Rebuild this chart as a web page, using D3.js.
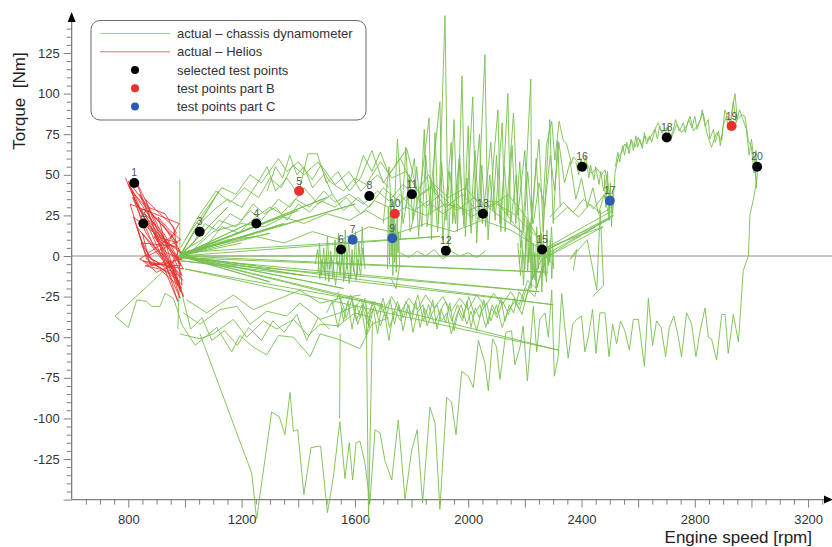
<!DOCTYPE html>
<html><head><meta charset="utf-8">
<script src="https://cdn.jsdelivr.net/npm/d3@7"></script>
<style>body{margin:0;background:#fff}svg{display:block;font-family:"Liberation Sans",Arial,sans-serif}</style>
</head><body>
<svg id="chart" width="832" height="547"></svg>
<script>
// ---------- data ----------
const xTickLabels = [800,1200,1600,2000,2400,2800,3200];
const yTickLabels = [-125,-100,-75,-50,-25,0,25,50,75,100,125];
const legendLabels = ["actual \u2013 chassis dynamometer","actual \u2013 Helios","selected test points","test points part B","test points part C"];

const pointIds    = [1,2,3,4,5,6,7,8,9,10,11,12,13,15,16,17,18,19,20];
const pointRpm    = [821,853,1052,1252,1403,1551,1592,1651,1732,1741,1801,1921,2052,2261,2402,2500,2701,2930,3020];
const pointTorque = [45,20,15,20,40,4,10,37,11,26,38,3.3,26,4,55,34,73,80,55];
const pointSet    = ["sel","sel","sel","sel","B","sel","C","sel","C","B","sel","sel","sel","sel","sel","C","sel","B","sel"];

const helios = [[790,48],[835,30],[870,20],[905,10],[960,2],[985,-5],[800,44],[850,25],[900,12],[975,8],
[812,40],[860,15],[915,0],[990,-12],[825,47],[880,22],[940,8],[980,20],[806,32],[845,10],[880,-2],[960,-8],[995,-25],
[840,38],[890,24],[950,14],[985,2],[818,24],[855,5],[900,-6],[970,-14],[860,35],[900,28],[960,18],[990,-18],
[830,18],[865,-2],[930,-9],[975,-28],[870,28],[920,20],[970,6],[845,8],[880,-6],[960,-4],[985,-22],
[880,18],[930,10],[995,-8],[852,-3],[900,-10],[950,-6],[980,4],[890,12],[935,2],[990,-2],[860,-6],[910,-8],[975,-18],
[905,24],[945,16],[985,10],[868,0],[955,-10],[983,-26],[800,46],[870,30],[930,26],[970,14],[840,-2],[880,-5],[985,-6],
[815,36],[890,6],[945,-3],[992,-15],[850,14],[875,-4],[965,-12],[988,-20],[858,26],[925,14],[978,-2]];

const mainRun = [[2265,0],[2265,34],[2277,69],[2295,83],[2306,59],[2321,83],[2336,71],[2347,69],[2365,57],[2371,61],[2400,55],[2418,57],[2436,51],[2453,54],[2471,50],[2483,53],[2495,43],[2503,34],[2510,26],[2518,51],[2530,61],[2542,64],[2553,69],[2565,66],[2577,71],[2589,67],[2600,73],[2612,68],[2624,74],[2636,71],[2653,76],[2671,82],[2683,76],[2700,79],[2718,73],[2736,81],[2753,76],[2771,80],[2783,86],[2795,77],[2812,81],[2830,88],[2842,76],[2859,67],[2877,76],[2895,71],[2906,90],[2924,82],[2942,100],[2950,84],[2965,87],[2977,86],[2989,71],[3000,67],[3009,51],[3016,65],[3021,49],[3006,34],[2995,26],[2989,0],[2971,-9],[2954,-53],[2936,-36],[2918,-60],[2907,-36],[2895,-36],[2877,-64],[2859,-51],[2848,-50],[2836,-32],[2818,-47],[2804,-62],[2789,-42],[2771,-35],[2753,-62],[2742,-50],[2726,-37],[2710,-44],[2697,-62],[2681,-44],[2665,-40],[2651,-55],[2636,-26],[2622,-68],[2601,-39],[2583,-39],[2569,-58],[2553,-46],[2538,-40],[2524,-54],[2510,-42],[2497,-62],[2483,-35],[2465,-35],[2451,-60],[2439,-33],[2424,-50],[2412,-59],[2400,-37],[2383,-39],[2369,-42],[2353,-63],[2339,-40],[2330,-23],[2318,-62],[2304,-74],[2295,-21],[2283,-50],[2271,-35],[2253,-39],[2242,-59],[2230,-31],[2209,-77],[2194,-43],[2183,-56],[2165,-67],[2153,-46],[2133,-47],[2112,-76],[2100,-56],[2086,-51],[2071,-83],[2059,-66],[2036,-52],[2018,-81],[2000,-74],[1977,-71],[1957,-110],[1941,-90],[1924,-87],[1900,-156],[1883,-103],[1865,-93],[1839,-152],[1820,-107],[1800,-120],[1777,-150],[1753,-101],[1730,-138],[1706,-126],[1689,-109],[1671,-107],[1653,-152],[1636,-128],[1618,-114],[1604,-115],[1592,-138],[1580,-115],[1565,-137],[1547,-102],[1524,-136],[1503,-158],[1479,-117],[1445,-118],[1420,-147],[1398,-107],[1383,-108],[1371,-84],[1353,-110],[1333,-99],[1306,-96],[1253,-162],[1236,-134],[1053,-48]];

const curve2 = [[2520,55],[2528,64],[2535,58],[2545,68],[2552,62],[2560,70],[2568,63],[2575,72],[2583,65],[2592,74],[2598,67],[2606,72],[2615,66],[2622,76],[2630,69],[2640,74],[2648,70],[2660,78],[2668,72],[2676,80],[2690,74],[2706,80],[2712,72],[2725,78],[2732,84],[2745,77],[2760,82],[2766,76],[2778,84],[2790,79],[2800,86],[2808,78],[2820,84],[2826,90],[2836,80],[2848,84],[2853,72],[2866,78],[2872,70],[2884,77],[2890,68],[2900,80],[2912,86],[2918,78],[2930,84],[2936,95],[2946,82],[2958,90],[2970,84],[2982,78],[2992,62],[3000,72],[3012,55],[3018,42],[3012,60]];
const curve3 = [[2380,58],[2390,50],[2398,60],[2408,52],[2414,62],[2426,48],[2432,56],[2444,47],[2450,55],[2462,44],[2468,52],[2478,40],[2488,48]];

const fanUp = [[982,0],[1250,22],[982,0],[1400,28],[982,1],[1600,32],[982,0],[1150,30],[982,0],[1300,14],[982,2],[1900,12],[982,0],[1120,40],[982,0],[1500,36],[982,0],[1350,20],[982,0],[1200,8]];
const fanDown = [[982,0],[2280,-10],[982,-1],[2250,-22],[985,-3],[2300,-30],[982,0],[1560,-20],[982,0],[1700,-30],[1000,-8],[2320,-58],[982,0],[1420,-12],[982,0],[1300,-16],[982,0],[1250,-6]];
const zeroRun = [[982,0],[1480,0],[1640,0],[2180,0],[2290,1]];
const hubVert = [[982,47],[982,-5],[975,-45]];

const lowLeft1 = [[982,0],[753,-37],[800,-44],[830,-27],[865,-28],[882,-31],[912,-31],[930,-23],[959,-26],[977,-35],[988,-42],[1036,-55],[1077,-49],[1112,-44],[1165,-59],[1194,-49],[1241,-56],[1289,-61],[1330,-49],[1383,-50],[1442,-62],[1477,-48],[1536,-51],[1618,-57],[1660,-42],[1720,-38]];
const lowLeft2 = [[983,-48],[1053,-51],[1100,-48],[1171,-39],[1218,-50],[1277,-40],[1324,-45],[1383,-39],[1436,-49],[1477,-42],[1542,-43],[1600,-35],[1660,-38]];
const lowLeft3 = [[994,-35],[1053,-42],[1124,-33],[1183,-31],[1230,-42],[1289,-34],[1359,-37],[1406,-29],[1477,-39],[1547,-35],[1610,-30]];
const lowLeft4 = [[1006,-27],[1077,-35],[1171,-24],[1241,-33],[1324,-27],[1406,-21],[1477,-29],[1550,-26],[1620,-24]];
const lowLeft5 = [[985,-20],[1020,-45],[1060,-38],[1095,-52],[1140,-46],[1185,-55],[1225,-44],[1270,-52],[1310,-40],[1350,-47],[1395,-36],[1430,-52],[1470,-38],[1510,-45]];
const vert1 = [[1640,-30],[1648,-162],[1662,-40]];
const vert2 = [[1548,-48],[1546,-100]];

const up1 = [[982,0],[1040,18],[1100,28],[1150,35],[1200,30],[1260,46],[1290,55],[1320,40],[1360,48],[1400,38],[1434,63],[1467,63],[1500,45],[1540,52],[1580,40],[1620,48],[1660,65],[1700,45],[1740,55],[1783,66],[1820,40],[1860,50],[1900,35]];
const up2 = [[982,2],[1060,10],[1120,22],[1180,18],[1230,28],[1270,22],[1330,35],[1370,30],[1420,42],[1470,32],[1520,38],[1560,28],[1610,36],[1650,30],[1700,42],[1760,33],[1800,40],[1850,30],[1900,38],[1960,28],[2020,36],[2080,30],[2140,38],[2200,25],[2250,10]];
const up3 = [[990,-2],[1100,15],[1200,20],[1280,18],[1350,24],[1420,20],[1500,26],[1580,22],[1640,28],[1700,22],[1780,30],[1850,25],[1920,32],[2000,28],[2080,34],[2160,26],[2240,12]];
const up4 = [[982,0],[1150,10],[1250,12],[1350,8],[1450,15],[1550,10],[1650,18],[1750,14],[1850,20],[1950,15],[2050,22],[2150,16],[2260,4]];
const up5 = [[1000,10],[1080,30],[1130,42],[1180,38],[1230,50],[1270,45],[1330,60],[1360,52],[1400,58],[1450,47],[1480,56],[1530,44],[1580,52],[1620,40],[1680,50],[1720,42]];
const up6 = [[985,5],[1050,25],[1110,40],[1160,33],[1210,42],[1260,36],[1300,48],[1340,42],[1380,56],[1420,50],[1470,58],[1510,46],[1560,40],[1600,48],[1640,44],[1690,58],[1730,48],[1780,52],[1830,38],[1880,44],[1930,36],[1990,42],[2050,30]];
const up7 = [[982,0],[1030,8],[1070,20],[1110,16],[1160,26],[1200,22],[1240,32],[1280,26],[1320,30],[1360,22],[1400,32],[1440,27],[1480,34],[1530,30],[1570,36],[1620,26],[1670,34],[1720,30],[1760,38],[1810,28],[1860,34],[1910,26],[1960,32],[2010,24],[2070,30],[2130,22],[2200,14]];
const up8 = [[982,-1],[1070,5],[1130,18],[1190,14],[1250,24],[1300,30],[1340,26],[1390,35],[1440,30],[1490,40],[1530,33],[1580,38],[1630,32],[1680,40],[1720,34],[1770,44],[1820,36],[1870,42],[1920,30],[1980,38],[2040,26],[2100,34],[2160,20],[2230,6]];
const up9 = [[1290,40],[1320,55],[1345,48],[1370,62],[1395,50],[1420,55],[1450,42],[1490,50],[1520,38]];
const up10 = [[1600,45],[1630,62],[1660,52],[1690,64],[1720,50],[1760,60],[1800,46]];

const spike1 = [[1760,10],[1780,67],[1795,15],[1830,40],[1862,85],[1870,10],[1883,76],[1895,20],[1918,148],[1930,5],[1950,84],[1962,15],[1978,111],[1990,12],[2016,98],[2030,8],[2059,124],[2070,10],[2090,60],[2105,90],[2115,15],[2140,100],[2150,20],[2170,50],[2185,5],[2200,35],[2221,109],[2225,-10]];
const spike2 = [[1700,20],[1720,55],[1735,10],[1750,72],[1770,20],[1810,60],[1825,12],[1845,78],[1855,18],[1900,95],[1910,10],[1940,70],[1945,20],[1970,62],[1985,18],[2000,80],[2010,14],[2040,75],[2050,20],[2080,70],[2095,22],[2120,82],[2130,15],[2160,88],[2175,25],[2200,65],[2215,10],[2250,72],[2265,15],[2288,84],[2300,20],[2316,71],[2325,30]];
const spike3 = [[1780,30],[1792,50],[1805,22],[1818,55],[1836,18],[1850,62],[1868,25],[1878,48],[1892,15],[1906,58],[1922,22],[1935,52],[1955,20],[1968,60],[1982,25],[1996,48],[2008,18],[2024,65],[2038,22],[2048,56],[2062,18],[2076,50],[2088,28],[2100,62],[2112,20],[2128,55],[2140,25],[2155,68],[2168,20],[2182,58],[2196,15],[2210,52],[2226,20],[2240,60],[2256,12]];

const clump1 = [[1470,-10],[1475,8],[1482,-12],[1490,5],[1496,-15],[1503,12],[1510,-8],[1515,3],[1522,-14],[1530,10],[1536,-5],[1542,14],[1548,-12],[1555,6],[1560,-16],[1566,16],[1572,-8],[1578,12],[1585,-14],[1590,4],[1596,-10],[1602,15],[1608,-12],[1614,8],[1620,-6],[1626,18],[1632,-4]];
const clump2 = [[1460,-5],[1468,4],[1476,-14],[1484,-2],[1492,-10],[1500,2],[1508,-16],[1516,0],[1524,-6],[1532,-18],[1540,-3],[1548,-10],[1556,2],[1564,-14],[1572,-4],[1580,-17],[1588,0],[1596,-8],[1604,-15],[1612,-2],[1620,-12],[1628,5],[1636,-8]];
const clump3 = [[1715,-8],[1718,30],[1722,-5],[1725,38],[1728,0],[1731,25],[1734,-12],[1737,34],[1740,-4],[1743,20],[1746,-10],[1749,28],[1752,2],[1755,15],[1758,-6],[1745,-20],[1728,-14]];
const clump4 = [[2180,-5],[2190,10],[2195,-18],[2205,15],[2210,-10],[2218,20],[2222,-20],[2230,8],[2236,-15],[2242,18],[2248,-8],[2255,12],[2260,-22],[2266,6],[2272,-12],[2278,16],[2284,-6],[2290,10],[2295,-14],[2300,4]];
const clump5 = [[2175,8],[2185,-12],[2192,4],[2200,-8],[2208,22],[2214,-4],[2220,12],[2228,-14],[2234,2],[2240,-20],[2246,10],[2252,-2],[2258,14],[2264,-10],[2270,2],[2276,-16],[2282,6],[2288,-4],[2294,18],[2302,-8]];
const jitter1 = [[1760,2],[1790,-1],[1820,3],[1850,0],[1880,4],[1910,-2],[1940,3],[1970,0],[2000,2],[2030,-1],[2060,3]];

const band1 = [[1520,-30],[1545,-24],[1560,-40],[1575,-28],[1590,-45],[1605,-30],[1620,-38],[1635,-26],[1650,-44],[1665,-32],[1680,-48],[1695,-30],[1710,-38],[1725,-27],[1740,-42],[1755,-30],[1770,-46],[1785,-33],[1800,-40],[1815,-28],[1830,-44],[1845,-32],[1860,-38],[1875,-27],[1890,-45],[1905,-33],[1920,-41],[1935,-29],[1950,-46],[1965,-34],[1980,-40],[1995,-28],[2010,-44],[2025,-32],[2040,-38],[2055,-27],[2070,-42],[2085,-30],[2100,-36],[2115,-26],[2130,-40],[2145,-30],[2160,-35],[2180,-22],[2200,-28],[2230,-12],[2260,-2]];
const band2 = [[1500,-35],[1520,-28],[1540,-44],[1555,-32],[1570,-38],[1590,-26],[1610,-42],[1625,-34],[1640,-50],[1655,-36],[1670,-31],[1690,-43],[1705,-35],[1720,-52],[1735,-36],[1750,-28],[1770,-38],[1790,-30],[1805,-47],[1820,-35],[1840,-30],[1855,-43],[1870,-36],[1890,-30],[1905,-40],[1925,-35],[1940,-48],[1960,-36],[1975,-30],[1995,-42],[2010,-34],[2030,-46],[2045,-35],[2065,-29],[2080,-40],[2100,-30],[2120,-44],[2140,-34],[2165,-28],[2190,-36],[2215,-18],[2245,-8]];
const band3 = [[1600,-32],[1620,-27],[1645,-36],[1670,-28],[1700,-34],[1730,-25],[1760,-35],[1790,-26],[1820,-33],[1850,-24],[1880,-32],[1910,-25],[1940,-34],[1970,-26],[2000,-33],[2030,-24],[2060,-31],[2090,-23],[2120,-30],[2150,-22],[2180,-30],[2210,-15],[2240,-20],[2270,-5]];
const band4 = [[1540,-22],[1565,-34],[1585,-24],[1605,-40],[1625,-30],[1645,-42],[1662,-28],[1680,-36],[1700,-26],[1722,-44],[1742,-34],[1762,-40],[1780,-28],[1800,-36],[1822,-24],[1842,-40],[1860,-30],[1880,-42],[1900,-34],[1920,-28],[1942,-40],[1962,-30],[1982,-38],[2002,-25],[2022,-36],[2042,-30],[2062,-44],[2082,-32],[2102,-38],[2122,-28],[2142,-36],[2162,-26],[2182,-33],[2205,-20],[2235,-25],[2262,-6]];

const right2 = [[2230,20],[2250,45],[2270,30],[2290,62],[2305,40],[2320,70],[2340,45],[2360,58],[2380,35],[2400,48],[2420,30],[2440,42],[2460,26],[2480,38],[2500,22]];
const right3 = [[2265,0],[2500,23],[2270,3],[2513,25],[2262,-2],[2477,18],[2275,5],[2510,28]];
const right4 = [[2289,24],[2336,33],[2371,27],[2407,35],[2442,29],[2477,37],[2513,31],[2470,26],[2430,32],[2390,24],[2350,30],[2300,22]];
const right5 = [[2480,50],[2486,30],[2492,52],[2497,22],[2502,45],[2506,18],[2510,38]];
const right6 = [[2371,-9],[2383,4],[2360,-2],[2420,10],[2454,-21],[2466,28],[2478,-18],[2440,-25]];

const greenTraces = [lowLeft1,lowLeft2,lowLeft3,lowLeft4,lowLeft5,fanDown,fanUp,up1,up2,up3,up4,up5,up6,up7,up8,up9,up10,
  band1,band2,band3,band4,spike3,spike2,spike1,clump1,clump2,clump3,clump4,clump5,jitter1,zeroRun,hubVert,
  vert1,vert2,right2,right3,right4,right5,right6,curve3,curve2,mainRun];

// ---------- drawing ----------
const svg = d3.select("#chart");
const x = d3.scaleLinear().domain([800,3200]).range([128.3,808.1]);
const y = d3.scaleLinear().domain([0,125]).range([256,53]);
const axisColor = "#808080", textColor = "#333";
const green = "#78c04e", red = "#e8302c";
const setColor = {sel:"#000000", B:"#e8302c", C:"#2d5db3"};
const fontFam = '"Liberation Sans",Arial,sans-serif';

// zero line
svg.append("line").attr("x1", x(600)).attr("x2", 832).attr("y1", y(0)).attr("y2", y(0))
  .attr("stroke", "#8c8c8c").attr("stroke-width", 1);

// y axis
const yMinor = d3.range(-150, 141, 5).filter(v => v % 25 !== 0);
const yMajor = d3.range(-150, 141, 25);
const gy = svg.append("g").attr("transform", `translate(${x(600)},0)`);
gy.call(d3.axisLeft(y).tickValues(yMinor).tickSize(5).tickFormat(""));
gy.select(".domain").remove();
const gy2 = svg.append("g").attr("transform", `translate(${x(600)},0)`);
gy2.call(d3.axisLeft(y).tickValues(yMajor).tickSize(8).tickPadding(4)
  .tickFormat(d => yTickLabels.includes(d) ? d : ""));
gy2.select(".domain").remove();
gy2.selectAll("text").attr("fill", textColor).style("font-size", "13px").style("font-family", fontFam);

// x axis
const xMinor = d3.range(650, 3251, 50).filter(v => v % 200 !== 0);
const xMajor = d3.range(800, 3201, 200);
const gx = svg.append("g").attr("transform", `translate(0,${y(-150)})`);
gx.call(d3.axisBottom(x).tickValues(xMinor).tickSize(5).tickFormat(""));
gx.select(".domain").remove();
const gx2 = svg.append("g").attr("transform", `translate(0,${y(-150)})`);
gx2.call(d3.axisBottom(x).tickValues(xMajor).tickSize(8).tickPadding(7)
  .tickFormat(d => xTickLabels.includes(d) ? d : ""));
gx2.select(".domain").remove();
gx2.selectAll("text").attr("fill", textColor).style("font-size", "13px").style("font-family", fontFam);
svg.selectAll("g .tick line").attr("stroke", axisColor);

// axis lines & arrows
const ax0 = x(600), ay0 = y(-150);
svg.append("line").attr("x1", ax0).attr("x2", ax0).attr("y1", ay0).attr("y2", 20).attr("stroke", axisColor).attr("stroke-width", 1.3);
svg.append("line").attr("x1", ax0).attr("x2", 826).attr("y1", ay0).attr("y2", ay0).attr("stroke", axisColor).attr("stroke-width", 1.3);
svg.append("path").attr("d", `M${ax0-4},${22}L${ax0},${12}L${ax0+4},${22}Z`).attr("fill", "#000");
svg.append("path").attr("d", `M824,${ay0-4}L833,${ay0}L824,${ay0+4}Z`).attr("fill", "#000");

// titles
svg.append("text").attr("x", 812).attr("y", 542.5).attr("text-anchor", "end")
  .style("font-size", "17px").attr("fill", "#222").text("Engine speed [rpm]");
svg.append("text").attr("transform", "translate(25,101) rotate(-90)").attr("text-anchor", "middle")
  .style("font-size", "17px").attr("fill", "#222").style("white-space", "pre").text("Torque  [Nm]");

// traces
const line = d3.line().x(d => x(d[0])).y(d => y(d[1]));
const gData = svg.append("g");
gData.selectAll("path.g").data(greenTraces).join("path").attr("class", "g")
  .attr("d", line).attr("fill", "none").attr("stroke", green).attr("stroke-width", 1)
  .attr("stroke-linejoin", "round").attr("opacity", 0.9);
gData.append("path").datum(helios).attr("d", line).attr("fill", "none")
  .attr("stroke", red).attr("stroke-width", 1).attr("opacity", 0.85);

// test points
const pts = pointIds.map((id, i) => ({id, rpm: pointRpm[i], tq: pointTorque[i], set: pointSet[i]}));
svg.append("g").selectAll("circle").data(pts).join("circle")
  .attr("cx", d => x(d.rpm)).attr("cy", d => y(d.tq)).attr("r", 5)
  .attr("fill", d => setColor[d.set]);
svg.append("g").selectAll("text").data(pts).join("text")
  .attr("x", d => x(d.rpm)).attr("y", d => y(d.tq) - 6.5).attr("text-anchor", "middle")
  .style("font-size", "10.5px").attr("fill", "#555").text(d => d.id);

// legend
const lg = svg.append("g");
lg.append("rect").attr("x", 91).attr("y", 20.5).attr("width", 275).attr("height", 99.5).attr("rx", 9)
  .attr("fill", "#fff").attr("stroke", "#6b6b6b").attr("stroke-width", 1);
const rowY = [33.5, 51.8, 70, 88.3, 106.6];
const legendKinds = [{t:"line", c:green}, {t:"line", c:red}, {t:"dot", c:setColor.sel}, {t:"dot", c:setColor.B}, {t:"dot", c:setColor.C}];
legendKinds.forEach((k, i) => {
  if (k.t === "line") lg.append("line").attr("x1", 100).attr("x2", 170).attr("y1", rowY[i]).attr("y2", rowY[i])
    .attr("stroke", k.c).attr("stroke-width", 1).attr("opacity", 0.7);
  else lg.append("circle").attr("cx", 135).attr("cy", rowY[i]).attr("r", 4).attr("fill", k.c);
  lg.append("text").attr("x", 177).attr("y", rowY[i] + 4.5).style("font-size", "13px").attr("fill", textColor).text(legendLabels[i]);
});
</script>
</body></html>
